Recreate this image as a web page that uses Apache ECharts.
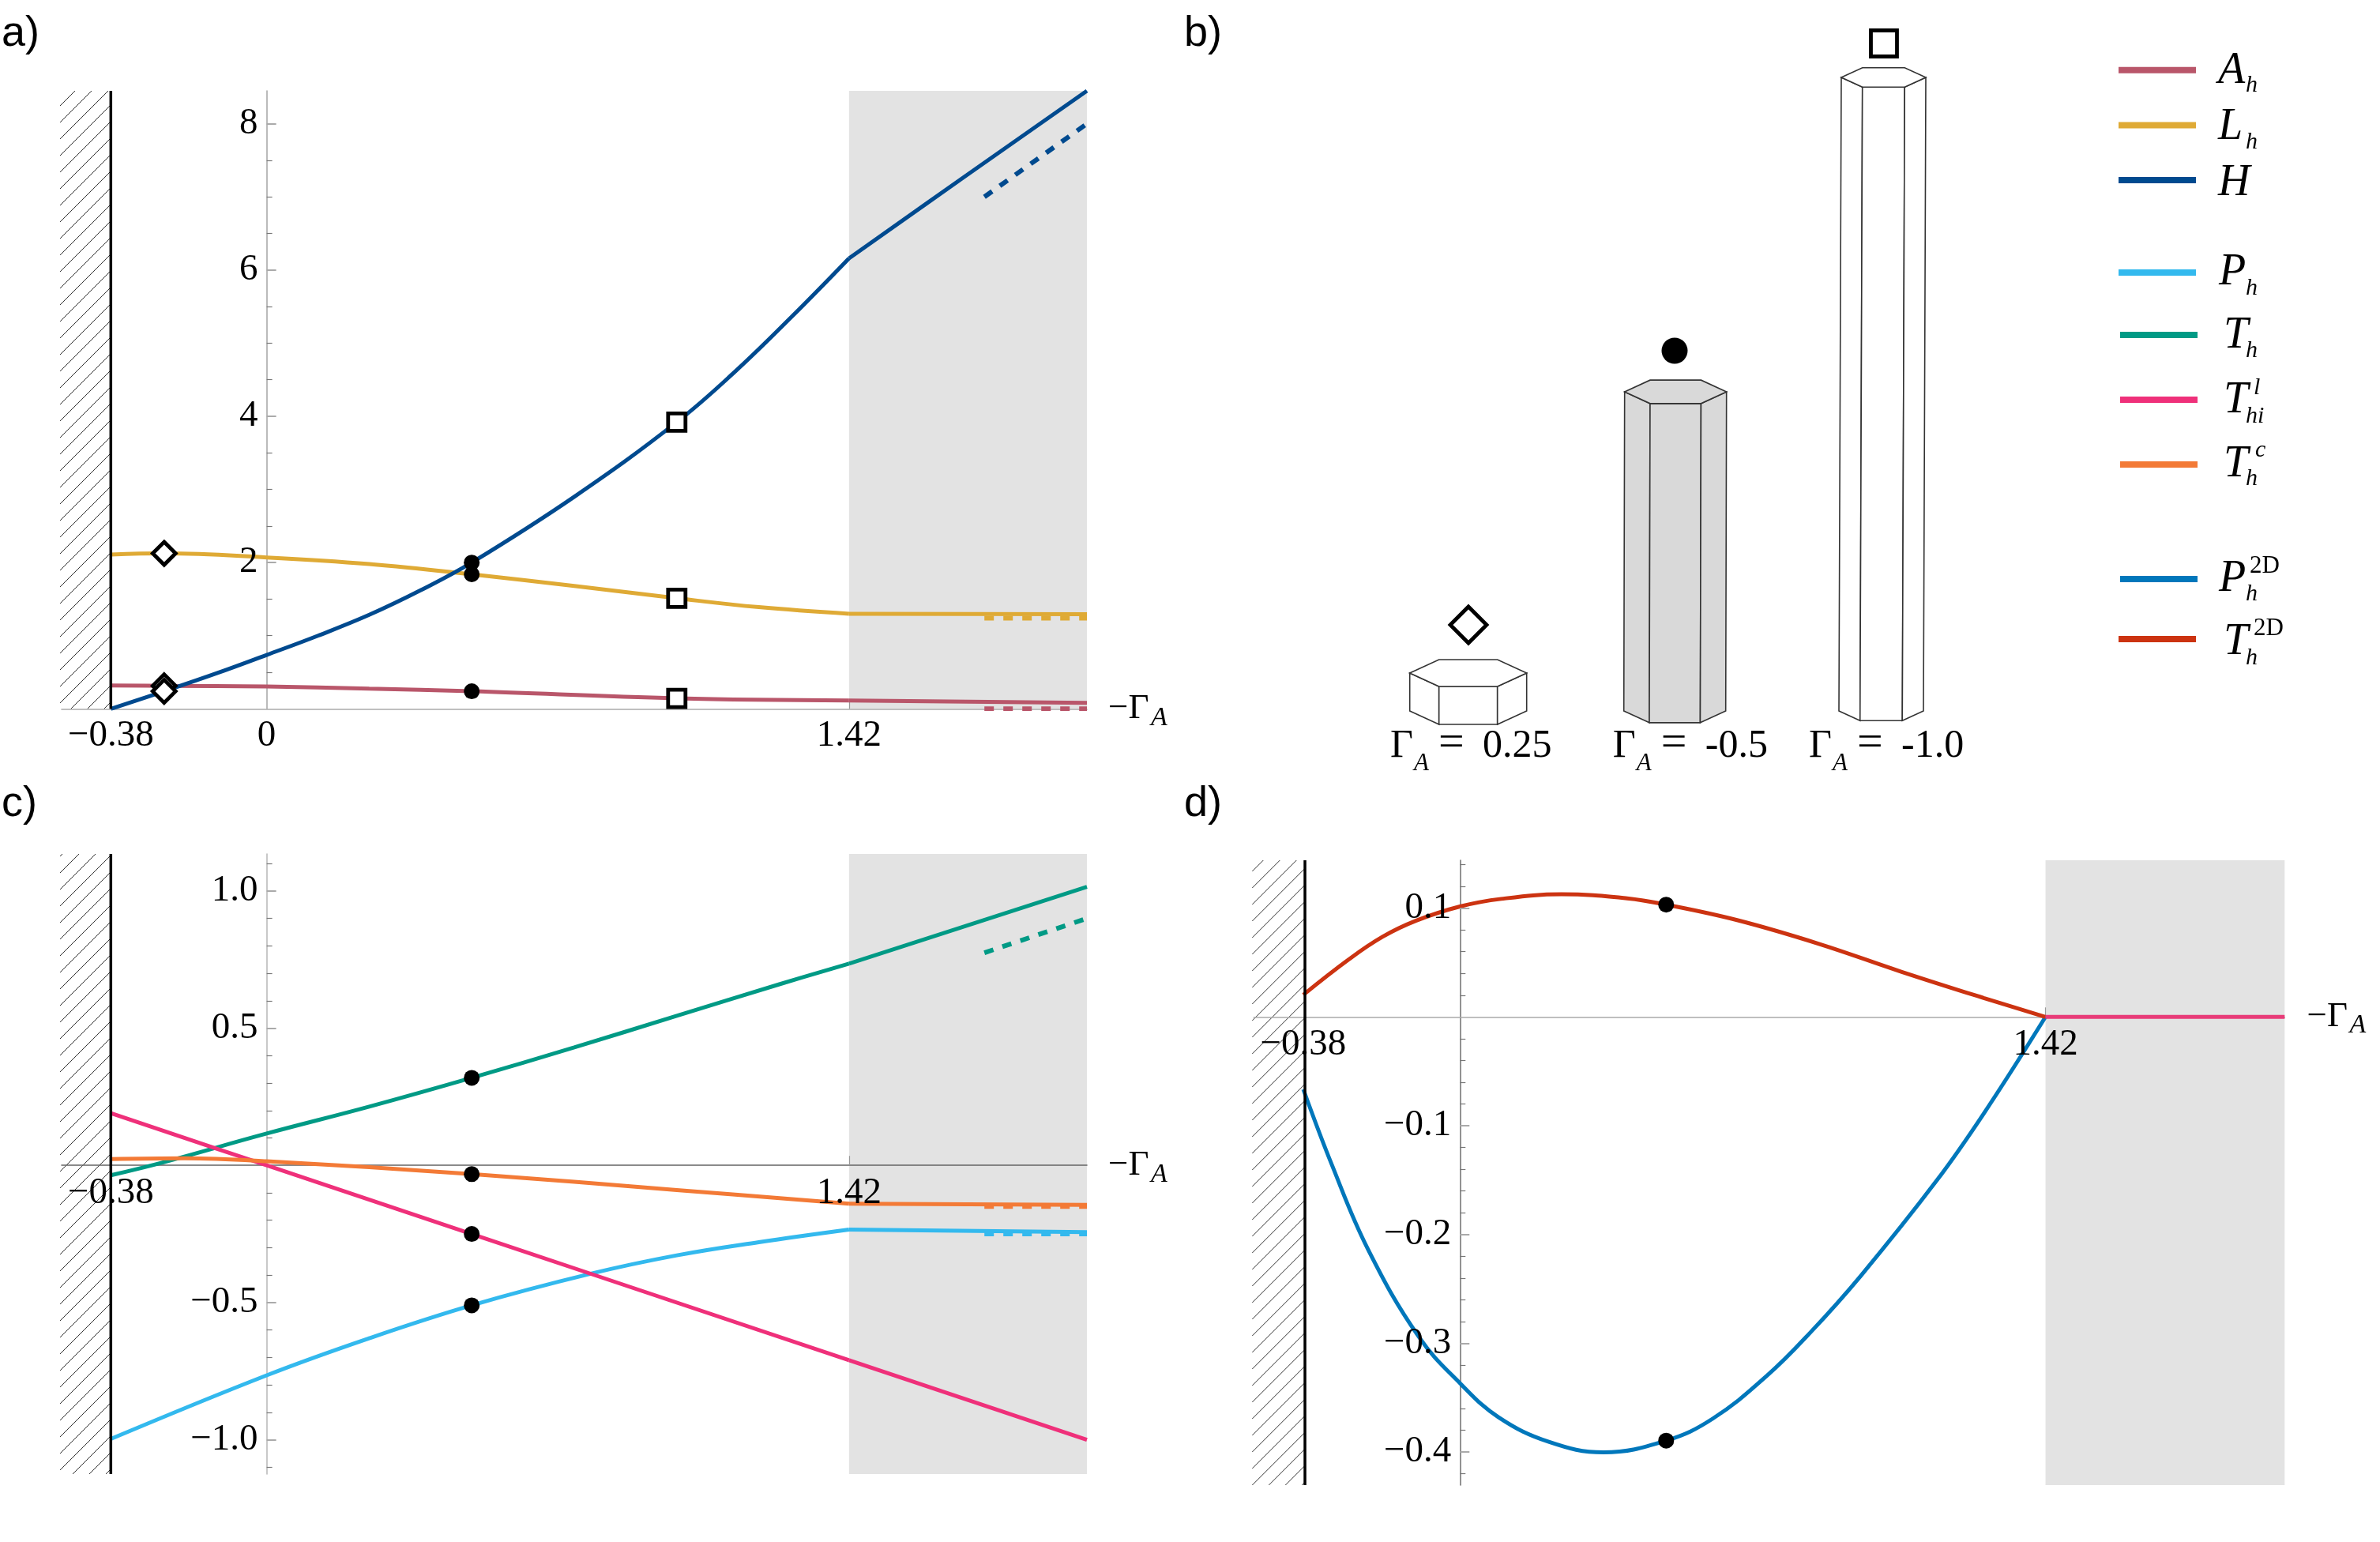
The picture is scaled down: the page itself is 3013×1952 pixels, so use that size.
<!DOCTYPE html>
<html>
<head>
<meta charset="utf-8">
<title>Panels a-d</title>
<script src="https://cdn.jsdelivr.net/npm/echarts@6/dist/echarts.min.js"></script>
<style>
  html, body { margin: 0; padding: 0; background: #fff; }
  #main { width: 3013px; height: 1952px; }
</style>
</head>
<body>
<div id="main"></div>
<script>
// panel a
var ahX = [-0.38, -0.25, 0, 0.25, 0.5, 1, 1.42, 2];
var ahY = [0.32, 0.315, 0.305, 0.275, 0.24, 0.145, 0.115, 0.082];
var lhX = [-0.38, -0.25, 0, 0.25, 0.5, 0.75, 1, 1.2, 1.42, 2];
var lhY = [2.11, 2.125, 2.07, 1.98, 1.84, 1.68, 1.512, 1.39, 1.3, 1.295];
var hX = [-0.38, -0.25, -0.12, 0, 0.125, 0.25, 0.375, 0.5, 0.75, 1, 1.14, 1.28, 1.42, 1.7, 2];
var hY = [0, 0.24, 0.49, 0.737, 1, 1.285, 1.62, 2, 2.9, 3.92, 4.6, 5.36, 6.16, 7.27, 8.45];
var ahLimit = [[1.75, 0], [2, 0]];
var lhLimit = [[1.75, 1.24], [2, 1.24]];
var hLimit = [[1.75, 7], [2, 8]];
var diamondsA = [[-0.25, 0.315], [-0.25, 2.125], [-0.25, 0.24]];
var dotsA = [[0.5, 0.24], [0.5, 1.84], [0.5, 2]];
var squaresA = [[1, 0.143], [1, 1.512], [1, 3.92]];

// panel c
var phX = [-0.38, 0, 0.25, 0.5, 0.79, 1, 1.2, 1.42, 2];
var phY = [-0.997, -0.765, -0.63, -0.51, -0.395, -0.328, -0.28, -0.234, -0.243];
var thX = [-0.38, -0.25, 0, 0.25, 0.5, 0.75, 1, 1.25, 1.42, 2];
var thY = [-0.036, 0.012, 0.116, 0.214, 0.319, 0.43, 0.545, 0.66, 0.735, 1.015];
var thiX = [-0.38, 0, 0.5, 1.42, 2];
var thiY = [0.19, 0, -0.25, -0.71, -1];
var tcX = [-0.38, -0.2, 0, 0.5, 1, 1.42, 2];
var tcY = [0.023, 0.026, 0.015, -0.032, -0.09, -0.14, -0.144];
var thLimit = [[1.75, 0.775], [2, 0.9]];
var phLimit = [[1.75, -0.25], [2, -0.25]];
var tcLimit = [[1.75, -0.15], [2, -0.15]];
var dotsC = [[0.5, 0.319], [0.5, -0.032], [0.5, -0.25], [0.5, -0.51]];

// panel d
var p2dX = [-0.38, -0.311, -0.223, -0.1, 0, 0.0935, 0.2167, 0.348, 0.5, 0.6125, 0.744, 0.85, 0.972, 1.157, 1.27, 1.42];
var p2dY = [-0.0666, -0.1357, -0.2137, -0.294, -0.3367, -0.368, -0.3908, -0.4003, -0.3895, -0.3694, -0.33, -0.29, -0.238, -0.15, -0.089, 0];
var t2dX = [-0.38, -0.271, -0.188, -0.106, 0, 0.1, 0.246, 0.4055, 0.5, 0.674, 0.872, 1.07, 1.27, 1.42];
var t2dY = [0.0203, 0.0525, 0.0736, 0.0885, 0.1015, 0.1085, 0.1127, 0.109, 0.1032, 0.0888, 0.067, 0.0416, 0.0174, 0];
var thi2d = [[1.42, 0], [2, 0]];
var dotsD = [[0.5, 0.1032], [0.5, -0.3895]];

// panel b
var prismGamma = ['0.25', '-0.5', '-1.0'];
var prismHeights = [48, 404, 802];
var prismWidths = [148, 129, 107];

// axes
var xLabelsA = [-0.38, 0, 1.42];
var xLabelsCD = [-0.38, 1.42];
var yMajorA = [2, 4, 6, 8];
var yMinorA = [0.5, 1, 1.5, 2.5, 3, 3.5, 4.5, 5, 5.5, 6.5, 7, 7.5];
var yMajorC = [-1, -0.5, 0.5, 1];
var yMinorC = [-1.1, -0.9, -0.8, -0.7, -0.6, -0.4, -0.3, -0.2, -0.1, 0.1, 0.2, 0.3, 0.4, 0.6, 0.7, 0.8, 0.9, 1.1];
var yMajorD = [-0.4, -0.3, -0.2, -0.1, 0.1];
var yMinorD = [-0.42, -0.38, -0.36, -0.34, -0.32, -0.28, -0.26, -0.24, -0.22, -0.18, -0.16, -0.14, -0.12, -0.08, -0.06, -0.04, -0.02, 0.02, 0.04, 0.06, 0.08, 0.12, 0.14];

var SERIF = '"Liberation Serif", serif';
var SANS = '"Liberation Sans", sans-serif';
var colors = {
    ah: '#b9566a', lh: '#dfaa35', h: '#004a8f', ph: '#33b9ee', th: '#009a85',
    thi: '#ef307a', tc: '#f37a36', p2d: '#0077bb', t2d: '#cc3311'
};

function zip(xs, ys) {
    return xs.map(function (x, i) { return [x, ys[i]]; });
}

function curvePart(name, panel, data, color) {
    return {
        name: name, type: 'line', xAxisIndex: panel, yAxisIndex: panel * 2, data: data,
        showSymbol: false, symbol: 'none', smooth: 0.4, z: 3,
        itemStyle: { color: color }, lineStyle: { color: color, width: 5 }, silent: true
    };
}

// the curves have a real kink at 1.42, so each side is drawn on its own
function curve(name, panel, data, color) {
    var left = data.filter(function (p) { return p[0] <= 1.42; });
    var right = data.filter(function (p) { return p[0] >= 1.42; });
    return [curvePart(name, panel, left, color), curvePart(name, panel, right, color)];
}

function limit(panel, data, color) {
    return {
        type: 'line', xAxisIndex: panel, yAxisIndex: panel * 2, data: data, symbol: 'none', z: 3,
        lineStyle: { color: color, width: 6, type: [12, 12] }, silent: true
    };
}

function wall(panel, x, y0, y1) {
    return {
        type: 'line', xAxisIndex: panel, yAxisIndex: panel * 2, data: [[x, y0], [x, y1]], symbol: 'none', z: 3,
        lineStyle: { color: '#000', width: 3.5 }, silent: true
    };
}

function markers(panel, data, symbol, size) {
    var hollow = symbol !== 'circle';
    return {
        type: 'scatter', xAxisIndex: panel, yAxisIndex: panel * 2, data: data, symbol: symbol, symbolSize: size, z: 6,
        itemStyle: {
            color: hollow ? '#fff' : '#000', borderColor: '#000', borderWidth: hollow ? 4.8 : 0, opacity: 1
        },
        silent: true
    };
}

function shade(panel, y0, y1) {
    return {
        type: 'custom', xAxisIndex: panel, yAxisIndex: panel * 2, data: [[1.42, y0]], z: 0, silent: true,
        renderItem: function (params, api) {
            var a = api.coord([1.42, y1]);
            var b = api.coord([2, y0]);
            return { type: 'rect', shape: { x: a[0], y: a[1], width: b[0] - a[0], height: b[1] - a[1] }, style: { fill: '#e3e3e3' } };
        }
    };
}

function hatch(panel, wallX, y0, y1, phase) {
    return {
        type: 'custom', xAxisIndex: panel, yAxisIndex: panel * 2, data: [[-0.5, y0]], z: 0, silent: true,
        renderItem: function (params, api) {
            var a = api.coord([-0.5, y1]);
            var b = api.coord([wallX, y0]);
            var left = a[0] - 2, right = b[0], top = a[1], bottom = b[1];
            var w = right - left;
            var kids = [];
            for (var c = top + phase; c < bottom + w; c += 21) {
                // 45 degree stroke through (left, c), clipped to the band
                var x0 = left, y_0 = c, x1 = right, y_1 = c - w;
                if (y_0 > bottom) { x0 = left + (y_0 - bottom); y_0 = bottom; }
                if (y_1 < top) { x1 = right - (top - y_1); y_1 = top; }
                kids.push({ type: 'line', shape: { x1: x0, y1: y_0, x2: x1, y2: y_1 }, style: { stroke: '#333', lineWidth: 1 } });
            }
            return { type: 'group', children: kids };
        }
    };
}

var prismCenters = [1858.7, 2120.2, 2381.5];
var prismLean = [0, 1, 3];
var prismFill = ['#fff', '#d9d9d9', '#fff'];
var prismBase = 900;

function prismItem(params, api) {
    var i = params.dataIndex;
    var cx = prismCenters[i], w = prismWidths[i], h = prismHeights[i], lean = prismLean[i];
    var d = 0.115 * w;
    var topY = prismBase - h;
    var pt = function (x, y) { return api.coord([x, y]); };
    var style = { fill: prismFill[i], stroke: '#333', lineWidth: 1.6 };
    var face = function (list) { return { type: 'polygon', shape: { points: list }, style: style }; };
    return {
        type: 'group',
        children: [
            face([pt(cx - w / 2, prismBase), pt(cx - w / 4, prismBase + d), pt(cx - w / 4 + lean, topY + d), pt(cx - w / 2 + lean, topY)]),
            face([pt(cx - w / 4, prismBase + d), pt(cx + w / 4, prismBase + d), pt(cx + w / 4 + lean, topY + d), pt(cx - w / 4 + lean, topY + d)]),
            face([pt(cx + w / 4, prismBase + d), pt(cx + w / 2, prismBase), pt(cx + w / 2 + lean, topY), pt(cx + w / 4 + lean, topY + d)]),
            face([pt(cx - w / 2 + lean, topY), pt(cx - w / 4 + lean, topY - d), pt(cx + w / 4 + lean, topY - d), pt(cx + w / 2 + lean, topY), pt(cx + w / 4 + lean, topY + d), pt(cx - w / 4 + lean, topY + d)])
        ]
    };
}

function text(x, base, str, size, italic, family) {
    return {
        type: 'text', x: x, y: base - 0.33 * size, silent: true, z: 20,
        style: {
            text: str, fontFamily: family || SERIF, fontSize: size, fontStyle: italic ? 'italic' : 'normal',
            fill: '#000', align: 'left', verticalAlign: 'middle'
        }
    };
}

function axisName(x, base) {
    return [text(x, base, '\u2212\u0393', 45, false), text(x + 54, base + 8, 'A', 34, true)];
}

function gammaLabel(x, value) {
    return [
        text(x, 961, '\u0393', 50, false), text(x + 30, 977, 'A', 31, true),
        text(x + 61, 961, '=', 58, false), text(x + 117, 961, value, 50, false)
    ];
}

var minus = function (v) { return String(v).replace('-', '\u2212'); };
var oneDec = function (v) { return minus(v.toFixed(1)); };

// grid placement of each panel
var grids = [
    { left: 78, top: 115, width: 1298, height: 782.3, outerBoundsMode: 'none' },
    { left: 78, top: 1081, width: 1298, height: 785, outerBoundsMode: 'none' },
    { left: 1587.3, top: 1089, width: 1305, height: 791, outerBoundsMode: 'none' },
    { left: 1480, top: 0, width: 1000, height: 1000, outerBoundsMode: 'none' }
];
var xMin = -0.5;
var xMax = 2;
var yMin = [0, -1.125, -0.4304];
var yMax = [8.45, 1.135, 0.144];

// how far the axes move in from the grid edge to sit on the zero lines
function xAxisOffset(panel) {
    return -grids[panel].height * (0 - yMin[panel]) / (yMax[panel] - yMin[panel]);
}
function yAxisOffset(panel) {
    return -grids[panel].width * (0 - xMin) / (xMax - xMin);
}

function xLineAxis(panel, lineColor) {
    return {
        type: 'value', gridIndex: panel, min: xMin, max: xMax, position: 'bottom', offset: xAxisOffset(panel), z: 2,
        axisLine: { show: true, onZero: false, lineStyle: { color: lineColor, width: 1.6 } },
        axisTick: { show: true, inside: true, length: 12, customValues: [1.42], lineStyle: { color: '#999', width: 1.2 } },
        axisLabel: { show: false },
        splitLine: { show: false }
    };
}

function xLabelAxis(panel, labels, margin) {
    return {
        type: 'value', gridIndex: panel, min: xMin, max: xMax, position: 'bottom', offset: xAxisOffset(panel), z: 7,
        axisLine: { show: false, onZero: false },
        axisTick: { show: false },
        axisLabel: {
            show: true, customValues: labels, margin: margin, formatter: minus, color: '#000',
            fontFamily: SERIF, fontSize: 47
        },
        splitLine: { show: false }
    };
}

function yAxisPair(panel, majors, minors, fmt, lineColor) {
    return [
        {
            type: 'value', gridIndex: panel, min: yMin[panel], max: yMax[panel], position: 'left', offset: yAxisOffset(panel), z: 2,
            axisLine: { show: true, onZero: false, lineStyle: { color: lineColor, width: 1.6 } },
            axisTick: { show: true, inside: true, length: 7, customValues: minors, lineStyle: { color: '#777', width: 1.2 } },
            axisLabel: { show: false },
            splitLine: { show: false }
        },
        {
            type: 'value', gridIndex: panel, min: yMin[panel], max: yMax[panel], position: 'left', offset: yAxisOffset(panel), z: 7,
            axisLine: { show: false, onZero: false },
            axisTick: { show: true, inside: true, length: 12, customValues: majors, lineStyle: { color: '#aaa', width: 2 } },
            axisLabel: {
                show: true, customValues: majors, margin: 11, formatter: fmt, color: '#000',
                fontFamily: SERIF, fontSize: 47
            },
            splitLine: { show: false }
        }
    ];
}

var legendKeys = [
    ['A_h', 2682, 88.7], ['L_h', 2682, 158.5], ['H', 2682, 228],
    ['P_h', 2682, 345], ['T_h', 2684, 424], ['T_hi^l', 2684, 506], ['T_h^c', 2684, 588],
    ['P_h^2D', 2684, 733], ['T_h^2D', 2682, 809]
];

var legends = legendKeys.map(function (k) {
    return {
        data: [k[0]], left: k[1], top: k[2] - 4, padding: 0, icon: 'rect', itemWidth: 98, itemHeight: 8,
        selectedMode: false, formatter: function () { return ''; }, textStyle: { fontSize: 1 }
    };
});

var legendText = [
    text(2808, 109.2, 'A', 56, true), text(2843, 117.8, 'h', 30, true),
    text(2808, 179.4, 'L', 56, true), text(2843, 190, 'h', 30, true),
    text(2808, 250.6, 'H', 56, true),
    text(2809, 363.8, 'P', 56, true), text(2843, 374.6, 'h', 30, true),
    text(2815, 444, 'T', 56, true), text(2843, 454.2, 'h', 30, true),
    text(2815, 525.6, 'T', 56, true), text(2843, 537, 'hi', 30, true), text(2853, 501, 'l', 30, true),
    text(2815, 606.6, 'T', 56, true), text(2843, 616, 'h', 30, true), text(2855, 580, 'c', 30, true),
    text(2809, 751.5, 'P', 56, true), text(2843, 762, 'h', 30, true), text(2848, 727, '2D', 31, false),
    text(2815, 831.5, 'T', 56, true), text(2843, 843, 'h', 30, true), text(2853, 806, '2D', 31, false)
];

var panelText = [
    text(2, 61, 'a)', 54, false, SANS), text(1499, 61, 'b)', 54, false, SANS),
    text(2, 1036, 'c)', 54, false, SANS), text(1499, 1036, 'd)', 54, false, SANS)
];

var option = {
    backgroundColor: '#fff',
    animation: false,
    legend: legends,
    graphic: { elements: [].concat(
        panelText, legendText,
        axisName(1403, 912), axisName(1403, 1490), axisName(2920.6, 1301.7),
        gammaLabel(1760, prismGamma[0]), gammaLabel(2041.8, prismGamma[1]), gammaLabel(2290, prismGamma[2])
    ) },
    grid: grids,
    xAxis: [
        xLineAxis(0, '#aaa'),
        xLineAxis(1, '#666'),
        xLineAxis(2, '#aaa'),
        { type: 'value', gridIndex: 3, min: 1480, max: 2480, show: false },
        xLabelAxis(0, xLabelsA, 11),
        xLabelAxis(1, xLabelsCD, 12),
        xLabelAxis(2, xLabelsCD, 12)
    ],
    yAxis: [].concat(
        yAxisPair(0, yMajorA, yMinorA, minus, '#aaa'),
        yAxisPair(1, yMajorC, yMinorC, oneDec, '#bbb'),
        yAxisPair(2, yMajorD, yMinorD, oneDec, '#777'),
        [{ type: 'value', gridIndex: 3, min: 0, max: 1000, inverse: true, show: false }]
    ),
    series: [].concat(
        shade(0, yMin[0], yMax[0]), hatch(0, -0.38, yMin[0], yMax[0], 19),
        shade(1, yMin[1], yMax[1]), hatch(1, -0.38, yMin[1], yMax[1], 3),
        shade(2, yMin[2], yMax[2]), hatch(2, -0.376, yMin[2], yMax[2], 14),

        curve('A_h', 0, zip(ahX, ahY), colors.ah),
        curve('L_h', 0, zip(lhX, lhY), colors.lh),
        curve('H', 0, zip(hX, hY), colors.h),
        limit(0, ahLimit, colors.ah), limit(0, lhLimit, colors.lh), limit(0, hLimit, colors.h),
        wall(0, -0.38, yMin[0], yMax[0]),
        markers(0, diamondsA, 'diamond', 29), markers(0, dotsA, 'circle', 20), markers(0, squaresA, 'rect', 22),

        curve('P_h', 1, zip(phX, phY), colors.ph),
        curve('T_h', 1, zip(thX, thY), colors.th),
        curve('T_hi^l', 1, zip(thiX, thiY), colors.thi),
        curve('T_h^c', 1, zip(tcX, tcY), colors.tc),
        limit(1, thLimit, colors.th), limit(1, phLimit, colors.ph), limit(1, tcLimit, colors.tc),
        wall(1, -0.38, yMin[1], yMax[1]),
        markers(1, dotsC, 'circle', 20),

        curvePart('P_h^2D', 2, zip(p2dX, p2dY), colors.p2d),
        curvePart('T_h^2D', 2, zip(t2dX, t2dY), colors.t2d),
        curvePart('T_hi_2D', 2, thi2d, '#e83c78'),
        wall(2, -0.376, yMin[2], yMax[2]),
        markers(2, dotsD, 'circle', 20),

        {
            type: 'custom', xAxisIndex: 3, yAxisIndex: 6, z: 1, silent: true, renderItem: prismItem,
            data: prismHeights.map(function (h, i) { return [prismCenters[i], prismBase - h]; })
        },
        {
            type: 'scatter', xAxisIndex: 3, yAxisIndex: 6, symbol: 'diamond', symbolSize: 46, z: 6, silent: true,
            data: [[1859, prismBase - prismHeights[0] - 61]],
            itemStyle: { color: '#fff', borderColor: '#000', borderWidth: 4.8, opacity: 1 }
        },
        {
            type: 'scatter', xAxisIndex: 3, yAxisIndex: 6, symbol: 'circle', symbolSize: 33, z: 6, silent: true,
            data: [[2120, prismBase - prismHeights[1] - 52]],
            itemStyle: { color: '#000', opacity: 1 }
        },
        {
            type: 'scatter', xAxisIndex: 3, yAxisIndex: 6, symbol: 'rect', symbolSize: 33, z: 6, silent: true,
            data: [[2385, prismBase - prismHeights[2] - 43]],
            itemStyle: { color: '#fff', borderColor: '#000', borderWidth: 4.8, opacity: 1 }
        }
    )
};

var myChart = echarts.init(document.getElementById('main'), null, { renderer: 'canvas' });
myChart.setOption(option);
</script>
</body>
</html>
